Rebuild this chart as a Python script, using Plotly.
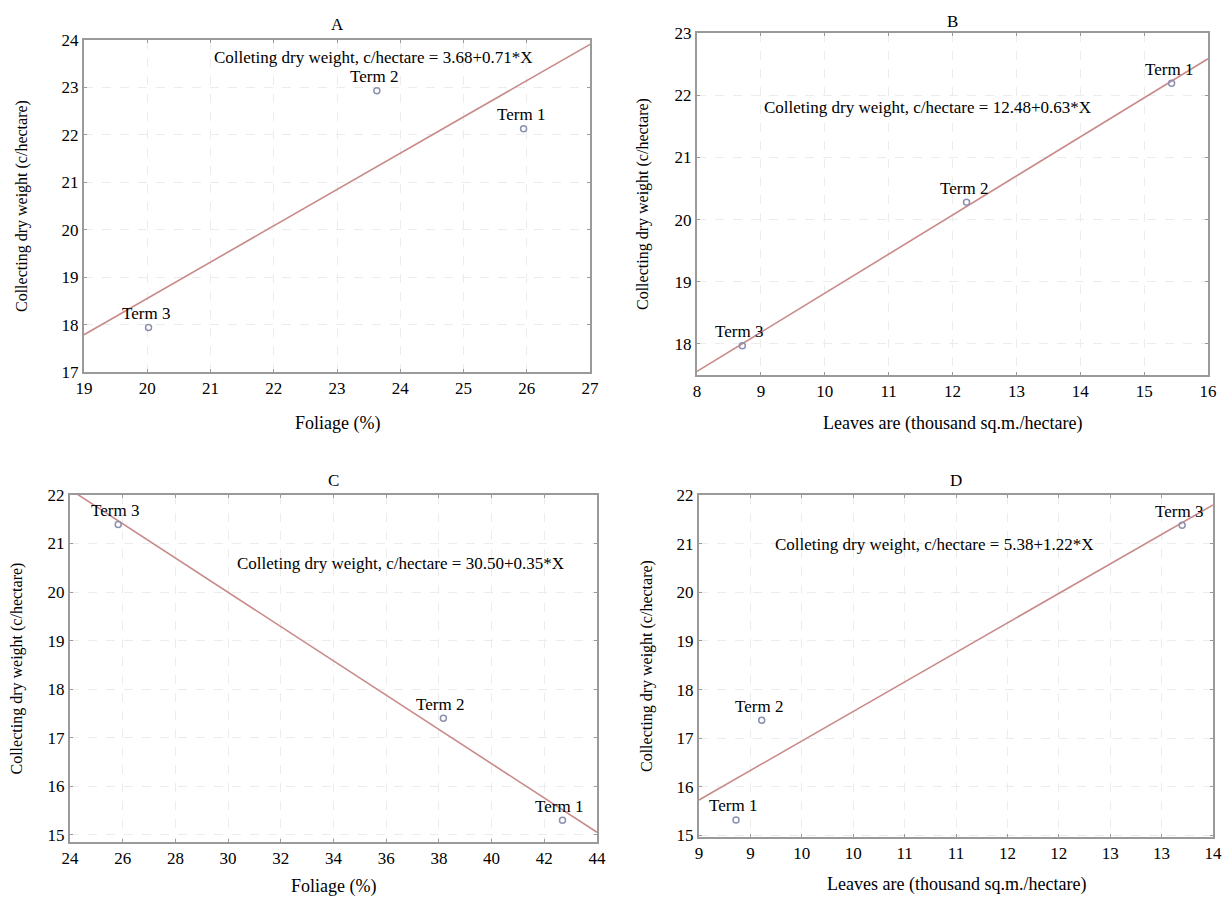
import numpy as np
import plotly.graph_objects as go

# ---------------- data ----------------
terms = ["Term 1", "Term 2", "Term 3"]

a_x = [25.95, 23.63, 20.02]
a_y = [22.13, 22.93, 17.94]
b_x = [15.43, 12.22, 8.71]
b_y = [22.19, 20.28, 17.97]
c_x = [42.69, 38.17, 25.83]
c_y = [15.30, 17.40, 21.39]
d_x = [9.36, 9.61, 13.70]
d_y = [15.32, 17.37, 21.38]

eq_a = "Colleting dry weight, c/hectare = 3.68+0.71*X"
eq_b = "Colleting dry weight, c/hectare = 12.48+0.63*X"
eq_c = "Colleting dry weight, c/hectare = 30.50+0.35*X"
eq_d = "Colleting dry weight, c/hectare = 5.38+1.22*X"

x_title_foliage = "Foliage (%)"
x_title_leaves = "Leaves are (thousand sq.m./hectare)"
y_title = "Collecting dry weight (c/hectare)"

a_xticks = [19, 20, 21, 22, 23, 24, 25, 26, 27]
a_yticks = [17, 18, 19, 20, 21, 22, 23, 24]
b_xticks = [8, 9, 10, 11, 12, 13, 14, 15, 16]
b_yticks = [18, 19, 20, 21, 22, 23]
c_xticks = [24, 26, 28, 30, 32, 34, 36, 38, 40, 42, 44]
c_yticks = [15, 16, 17, 18, 19, 20, 21, 22]
d_xtickvals = [9, 9.5, 10, 10.5, 11, 11.5, 12, 12.5, 13, 13.5, 14]
d_xticktext = ["9", "9", "10", "10", "11", "11", "12", "12", "13", "13", "14"]
d_yticks = [15, 16, 17, 18, 19, 20, 21, 22]

# ---------------- layout helpers ----------------
W, H = 1224, 898
FONT = "Liberation Serif"
LINE_COL = "#c98a8a"
MARK_COL = "#8c90b0"
FRAME_COL = "#9a9a9a"


def px(x):
    return x / W


def py(y):
    return 1 - y / H


panels = [
    dict(n="A", xs=a_x, ys=a_y, xr=[19, 27], yr=[17, 24], xtv=a_xticks, xtt=None, ytv=a_yticks,
         dom=(84, 590, 40, 372), title_y=25, eq=eq_a, eqpos=(373, 58), xt=x_title_foliage, xt_y=423, yt_x=22),
    dict(n="B", xs=b_x, ys=b_y, xr=[8, 16], yr=[17.5, 23], xtv=b_xticks, xtt=None, ytv=b_yticks,
         dom=(697, 1208, 33, 375), title_y=21, eq=eq_b, eqpos=(927, 107), xt=x_title_leaves, xt_y=423, yt_x=643),
    dict(n="C", xs=c_x, ys=c_y, xr=[24, 44], yr=[14.85, 22], xtv=c_xticks, xtt=None, ytv=c_yticks,
         dom=(70, 597, 495, 842), title_y=480, eq=eq_c, eqpos=(400, 563), xt=x_title_foliage, xt_y=886, yt_x=16),
    dict(n="D", xs=d_x, ys=d_y, xr=[9, 14], yr=[14.97, 22], xtv=d_xtickvals, xtt=d_xticktext, ytv=d_yticks,
         dom=(699, 1213, 495, 837), title_y=480, eq=eq_d, eqpos=(934, 544), xt=x_title_leaves, xt_y=884, yt_x=647),
]

fig = go.Figure()
annotations = []
TXT = dict(family=FONT, size=17, color="black")
TXT_X = dict(family=FONT, size=18, color="black")
TXT_Y = dict(family=FONT, size=16, color="black")

for i, p in enumerate(panels):
    k = "" if i == 0 else str(i + 1)
    xa, ya = "x" + k, "y" + k
    l, r, t, b = p["dom"]

    # regression line from the points
    slope, icpt = np.polyfit(p["xs"], p["ys"], 1)
    lx = np.array(p["xr"], dtype=float)
    fig.add_trace(go.Scatter(x=lx, y=icpt + slope * lx, mode="lines",
                             line=dict(color=LINE_COL, width=1.6),
                             xaxis=xa, yaxis=ya, showlegend=False, hoverinfo="skip"))
    fig.add_trace(go.Scatter(x=p["xs"], y=p["ys"], mode="markers",
                             marker=dict(symbol="circle-open", size=6, color=MARK_COL,
                                         line=dict(width=1.5, color=MARK_COL)),
                             xaxis=xa, yaxis=ya, showlegend=False))
    for tx, ty, tl in zip(p["xs"], p["ys"], terms):
        annotations.append(dict(x=tx, y=ty, xref=xa, yref=ya, text=tl, showarrow=False,
                                yshift=14, xshift=-3, font=TXT))

    axis_common = dict(showline=True, mirror="allticks", linecolor=FRAME_COL, linewidth=2,
                       ticks="inside", ticklen=3, tickcolor=FRAME_COL, tickwidth=1,
                       showgrid=True, gridcolor="#ececec", griddash="dash", gridwidth=1,
                       zeroline=False, tickfont=dict(family=FONT, size=17, color="black"),
                       automargin=False, fixedrange=True)
    xaxis = dict(axis_common, domain=[px(l), px(r)], range=p["xr"], anchor=ya,
                 tickmode="array", tickvals=p["xtv"],
                 ticktext=p["xtt"] if p["xtt"] else [str(v) for v in p["xtv"]])
    yaxis = dict(axis_common, domain=[py(b), py(t)], range=p["yr"], anchor=xa,
                 tickmode="array", tickvals=p["ytv"], ticktext=[str(v) for v in p["ytv"]])
    fig.update_layout(**{"xaxis" + k: xaxis, "yaxis" + k: yaxis})

    cx = (l + r) / 2
    annotations.append(dict(x=px(cx), y=py(p["title_y"]), xref="paper", yref="paper", text=p["n"],
                            showarrow=False, xanchor="center", yanchor="middle", font=TXT))
    annotations.append(dict(x=px(p["eqpos"][0]), y=py(p["eqpos"][1]), xref="paper", yref="paper",
                            text=p["eq"], showarrow=False, xanchor="center", yanchor="middle", font=TXT))
    annotations.append(dict(x=px(cx), y=py(p["xt_y"]), xref="paper", yref="paper", text=p["xt"],
                            showarrow=False, xanchor="center", yanchor="middle", font=TXT_X))
    annotations.append(dict(x=px(p["yt_x"]), y=py((t + b) / 2), xref="paper", yref="paper",
                            text=y_title, textangle=-90, showarrow=False,
                            xanchor="center", yanchor="middle", font=TXT_Y))

fig.update_layout(width=W, height=H, margin=dict(l=0, r=0, t=0, b=0, autoexpand=False),
                  paper_bgcolor="white", plot_bgcolor="white", font=dict(family=FONT, size=16),
                  annotations=annotations, showlegend=False)

fig.write_html("out.html", config={"displayModeBar": False},
               post_script="document.body.style.margin='0px';document.body.style.overflow='hidden';")
